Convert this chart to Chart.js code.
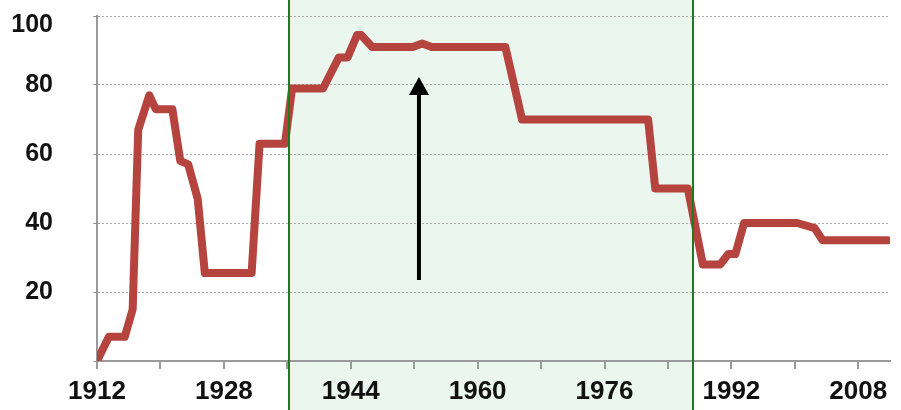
<!DOCTYPE html>
<html lang="en">
<head>
  <meta charset="UTF-8" />
  <title>Index over time</title>
  <script src="https://cdn.jsdelivr.net/npm/chart.js"></script>
  <style>
    body { margin: 0; background: #ffffff; }
    .chart-box { width: 901px; height: 410px; position: relative; }
  </style>
</head>
<body>
  <div class="chart-box">
    <canvas id="mainChart"></canvas>
  </div>

  <script>
    // series
    const years = [1912, 1913.5, 1915.5, 1916.5, 1917.2, 1918.6, 1919.4, 1921.5, 1922.5, 1923.5,
                   1924.7, 1925.6, 1931.5, 1932.5, 1935.7, 1936.6, 1940.5, 1942.5, 1943.6, 1944.8,
                   1945.3, 1946.7, 1951.8, 1953, 1954.2, 1963.5, 1965.6, 1981.5, 1982.4, 1986.5,
                   1988.4, 1990.6, 1991.6, 1992.5, 1993.6, 2000.3, 2002.5, 2003.5, 2011.7];
    const values = [0, 7, 7, 15, 67, 77, 73, 73, 58, 57,
                    47, 25.5, 25.5, 63, 63, 79, 79, 88, 88, 94.5,
                    94.5, 91, 91, 92, 91, 91, 70, 70, 50, 50,
                    28, 28, 31, 31, 40, 40, 38.5, 35, 35];

    const xTickYears = [1912, 1928, 1944, 1960, 1976, 1992, 2008];
    const yTickValues = [20, 40, 60, 80, 100];

    const shadedPeriod = [1936.2, 1987.1];
    const arrowYear = 1952.6;
    const arrowFrom = 23.5;
    const arrowTo = 82.3;

    const shadePlugin = {
      id: 'shadePlugin',
      beforeDraw(chart) {
        const { ctx, scales: { x } } = chart;
        const x1 = x.getPixelForValue(shadedPeriod[0]);
        const x2 = x.getPixelForValue(shadedPeriod[1]);
        ctx.save();
        ctx.fillStyle = '#ebf6ee';
        ctx.fillRect(x1, 0, x2 - x1, chart.height);
        ctx.restore();
      },
      afterDatasetsDraw(chart) {
        const { ctx, scales: { x, y } } = chart;
        const x1 = x.getPixelForValue(shadedPeriod[0]);
        const x2 = x.getPixelForValue(shadedPeriod[1]);
        ctx.save();
        ctx.strokeStyle = '#1f7a1f';
        ctx.lineWidth = 2;
        [x1, x2].forEach(px => {
          ctx.beginPath();
          ctx.moveTo(Math.round(px), 0);
          ctx.lineTo(Math.round(px), chart.height);
          ctx.stroke();
        });

        // arrow
        const ax = x.getPixelForValue(arrowYear);
        const yBottom = y.getPixelForValue(arrowFrom);
        const yTip = y.getPixelForValue(arrowTo);
        ctx.strokeStyle = '#000';
        ctx.fillStyle = '#000';
        ctx.lineWidth = 4;
        ctx.beginPath();
        ctx.moveTo(ax, yBottom);
        ctx.lineTo(ax, yTip + 14);
        ctx.stroke();
        ctx.beginPath();
        ctx.moveTo(ax, yTip);
        ctx.lineTo(ax - 10, yTip + 18);
        ctx.lineTo(ax + 10, yTip + 18);
        ctx.closePath();
        ctx.fill();
        ctx.restore();
      }
    };

    const ctx = document.getElementById('mainChart').getContext('2d');
    const chart = new Chart(ctx, {
      type: 'line',
      data: {
        datasets: [{
          data: years.map((yr, i) => ({ x: yr, y: values[i] })),
          borderColor: '#b5443f',
          borderWidth: 8,
          borderJoinStyle: 'round',
          borderCapStyle: 'round',
          pointRadius: 0,
          tension: 0,
          fill: false
        }]
      },
      options: {
        responsive: true,
        maintainAspectRatio: false,
        animation: false,
        devicePixelRatio: 1,
        layout: { padding: { top: 16, right: 11, left: 0, bottom: 0 } },
        plugins: {
          legend: { display: false },
          tooltip: { enabled: false }
        },
        scales: {
          x: {
            type: 'linear',
            min: 1912,
            max: 2012,
            afterBuildTicks(scale) {
              const t = [];
              for (let v = 1912; v <= 2008; v += 8) t.push({ value: v });
              scale.ticks = t;
            },
            afterFit(scale) { scale.height = 49; },
            ticks: {
              autoSkip: false,
              maxRotation: 0,
              padding: 7,
              color: '#111',
              font: { family: 'Liberation Sans, Arial, sans-serif', size: 26, weight: 'bold' },
              callback: v => xTickYears.includes(v) ? String(v) : ''
            },
            grid: {
              drawOnChartArea: false,
              tickLength: 8,
              color: '#9a9a9a',
              lineWidth: 2
            },
            border: { color: '#9a9a9a', width: 2 }
          },
          y: {
            min: 0,
            max: 100,
            afterBuildTicks(scale) {
              scale.ticks = [0].concat(yTickValues).map(v => ({ value: v }));
            },
            afterFit(scale) {
              scale.width = 97;
              // keep the label padding from pushing the plot area in
              scale.paddingTop = 0;
              scale.paddingBottom = 0;
            },
            ticks: {
              padding: 40,
              color: '#111',
              font: { family: 'Liberation Sans, Arial, sans-serif', size: 25, weight: 'bold', lineHeight: 0.75 },
              // top label sits a little below its gridline in the original
              callback: v => v === 100 ? ['', '100'] : (yTickValues.includes(v) ? String(v) : '')
            },
            grid: {
              color: '#ababab',
              lineWidth: 1,
              tickLength: 4,
              tickColor: '#9a9a9a',
              tickBorderDash: []
            },
            border: { color: '#9a9a9a', width: 2, dash: [2, 2] }
          }
        }
      },
      plugins: [shadePlugin]
    });
  </script>
</body>
</html>
